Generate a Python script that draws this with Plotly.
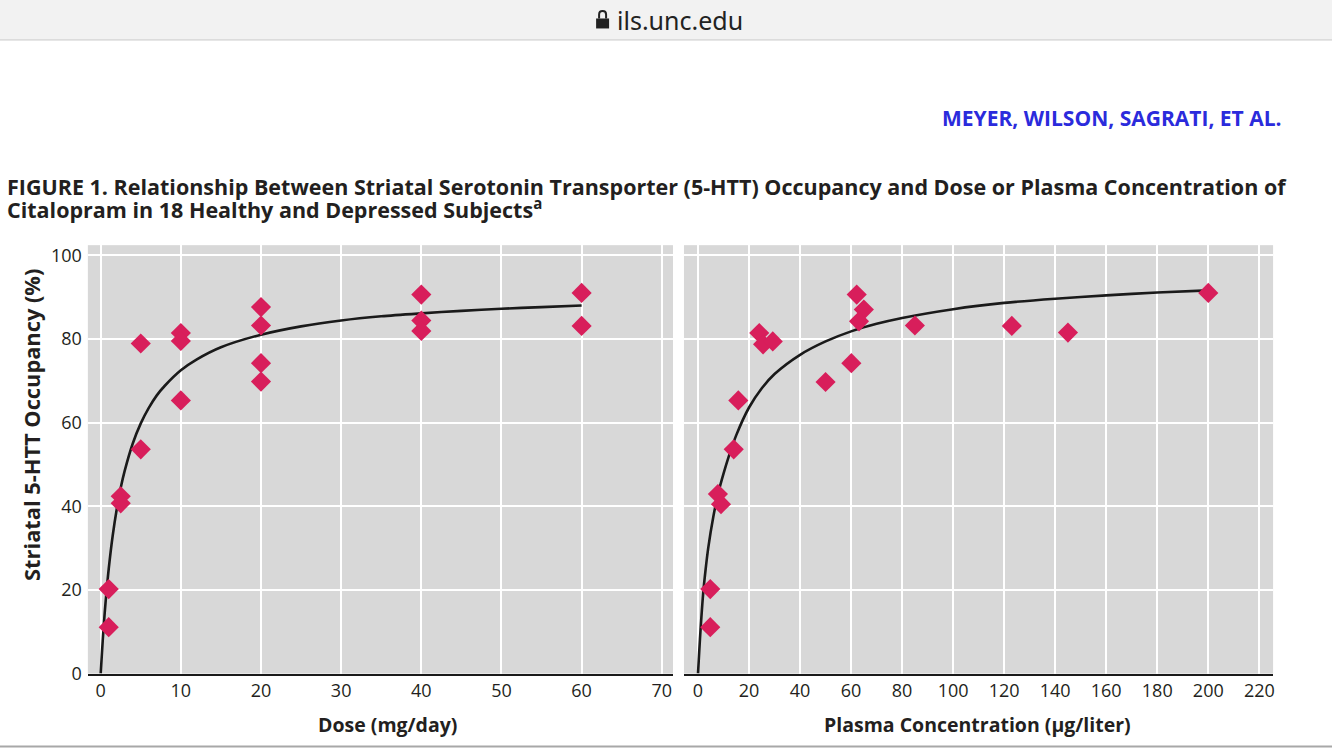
import plotly.graph_objects as go

W = 1334
FIG_H = 762          # page height; the photo is squeezed to 750 rows
SQUEEZE = 750 / 762  # measured vertical factor of the photograph
OFFSET = 1.5

# ---------------- data ----------------
dose = [1, 1, 2.5, 2.5, 5, 5, 10, 10, 10, 20, 20, 20, 20, 40, 40, 40, 60, 60]
occ_dose = [11.1, 20.2, 42.4, 40.7, 53.6, 78.9, 81.4, 79.5, 65.3, 87.6, 83.2, 74.2, 69.8,
            90.6, 84.4, 81.9, 91.0, 83.1]

plasma = [4.8, 4.8, 7.8, 9.0, 14.0, 15.8, 24.0, 25.5, 29.3, 50.0, 60.1, 62.2, 65.0, 63.1,
          85.0, 123.0, 145.0, 200.0]
occ_plasma = [11.1, 20.2, 42.9, 40.5, 53.6, 65.3, 81.4, 78.7, 79.4, 69.7, 74.2, 90.6, 87.0,
              84.2, 83.2, 83.1, 81.5, 91.0]

# fitted curves, values
fit_dose_x = [0, 0.25, 0.5, 0.75, 1, 1.5, 2, 2.5, 3, 4, 5, 6, 7, 8, 10, 12, 15, 20, 25, 30,
              35, 40, 45, 50, 55, 60]
fit_dose_y = [0, 7.8, 14.5, 20.1, 25.0, 33.0, 39.3, 44.4, 48.5, 55.0, 59.8, 63.5, 66.5, 68.8,
              72.5, 75.1, 78.0, 81.0, 83.0, 84.4, 85.4, 86.1, 86.7, 87.2, 87.6, 88.0]

fit_plasma_x = [0, 0.5, 1, 2, 3, 4, 6, 8, 10, 12, 15, 20, 25, 30, 40, 50, 60, 70, 80, 100,
                120, 140, 160, 180, 200]
fit_plasma_y = [0, 5.5, 10.5, 19.0, 25.0, 30.0, 37.5, 43.3, 47.8, 51.8, 57.0, 63.6, 68.2,
                71.6, 76.2, 79.4, 81.8, 83.6, 85.0, 87.1, 88.6, 89.6, 90.4, 91.1, 91.6]

dose_ticks = [0, 10, 20, 30, 40, 50, 60, 70]
plasma_ticks = [0, 20, 40, 60, 80, 100, 120, 140, 160, 180, 200, 220]
occ_ticks = [0, 20, 40, 60, 80, 100]

# ---------------- styling ----------------
RED = "#d81e5b"
TXT = "#231f20"
FONT = "Open Sans"


def px(x):
    return x / W


def py(y):
    # y = target row in the 750-row picture
    return 1 - ((y - OFFSET) / SQUEEZE) / FIG_H


fig = go.Figure()

fig.add_trace(go.Scatter(x=fit_dose_x, y=fit_dose_y, mode="lines",
                         line=dict(color="#1a1a1a", width=2.6, shape="spline", smoothing=0.8),
                         xaxis="x", yaxis="y", hoverinfo="skip", showlegend=False))
fig.add_trace(go.Scatter(x=dose, y=occ_dose, mode="markers",
                         marker=dict(symbol="diamond", size=15.5, color=RED, line=dict(width=0)),
                         xaxis="x", yaxis="y", showlegend=False))
fig.add_trace(go.Scatter(x=fit_plasma_x, y=fit_plasma_y, mode="lines",
                         line=dict(color="#1a1a1a", width=2.6, shape="spline", smoothing=0.8),
                         xaxis="x2", yaxis="y2", hoverinfo="skip", showlegend=False))
fig.add_trace(go.Scatter(x=plasma, y=occ_plasma, mode="markers",
                         marker=dict(symbol="diamond", size=15.5, color=RED, line=dict(width=0)),
                         xaxis="x2", yaxis="y2", showlegend=False))

ydom = [py(674), py(245)]
common_x = dict(showgrid=True, gridcolor="white", gridwidth=1.5, zeroline=False,
                showline=True, linecolor="#1a1a1a", linewidth=2, ticks="",
                tickfont=dict(family=FONT, size=18, color=TXT),
                ticklabelstandoff=0)
common_y = dict(showgrid=True, gridcolor="white", gridwidth=1.5, zeroline=False,
                showline=False, ticks="", range=[0, 102.4], domain=ydom,
                tickvals=occ_ticks, tickfont=dict(family=FONT, size=18, color=TXT))

fig.update_layout(
    width=W, height=FIG_H, autosize=False,
    margin=dict(l=0, r=0, t=0, b=0),
    paper_bgcolor="white", plot_bgcolor="#d8d8d8",
    xaxis=dict(common_x, domain=[px(88), px(674)], range=[-1.6, 71.4], tickvals=dose_ticks,
               anchor="y"),
    yaxis=dict(common_y, anchor="x", ticklabelstandoff=5),
    xaxis2=dict(common_x, domain=[px(685), px(1275)], range=[-5.5, 225.4], tickvals=plasma_ticks,
                anchor="y2"),
    yaxis2=dict(common_y, anchor="x2", showticklabels=False),
)

shapes = []
# browser bar
shapes.append(dict(type="rect", xref="paper", yref="paper", x0=0, x1=1, y0=py(39), y1=1.01,
                   fillcolor="#f2f2f2", line=dict(width=0), layer="below"))
shapes.append(dict(type="line", xref="paper", yref="paper", x0=0, x1=1, y0=py(39.5), y1=py(39.5),
                   line=dict(color="#c6c6c6", width=1)))
# lock icon
shapes.append(dict(type="rect", xref="paper", yref="paper", x0=px(597), x1=px(610), y0=py(28), y1=py(18),
                   fillcolor="#222", line=dict(width=0)))
shapes.append(dict(type="path", xref="paper", yref="paper",
                   path=f"M {px(600)},{py(18)} L {px(600)},{py(14)} Q {px(600)},{py(10.5)} {px(603.5)},{py(10.5)} "
                        f"Q {px(607)},{py(10.5)} {px(607)},{py(14)} L {px(607)},{py(18)}",
                   line=dict(color="#222", width=2)))
# bottom grey rule
shapes.append(dict(type="line", xref="paper", yref="paper", x0=0, x1=1, y0=py(747), y1=py(747),
                   line=dict(color="#a8a8a8", width=2)))
fig.update_layout(shapes=shapes)

ann = []
ann.append(dict(text="ils.unc.edu", x=px(616), y=py(20), xref="paper", yref="paper",
                xanchor="left", yanchor="middle", showarrow=False,
                font=dict(family="Noto Sans", size=25, color="#222")))
ann.append(dict(text="<b>MEYER, WILSON, SAGRATI, ET AL.</b>", x=px(1286), y=py(118), xref="paper",
                yref="paper", xanchor="right", yanchor="middle", showarrow=False,
                font=dict(family=FONT, size=21, color="#2b2bdc")))
ann.append(dict(text="<b>FIGURE 1. Relationship Between Striatal Serotonin Transporter (5-HTT) Occupancy and Dose or Plasma Concentration of</b>",
                x=px(5), y=py(186), xref="paper", yref="paper", xanchor="left", yanchor="middle",
                showarrow=False, font=dict(family=FONT, size=21.5, color=TXT)))
ann.append(dict(text="<b>Citalopram in 18 Healthy and Depressed Subjects<sup>a</sup></b>",
                x=px(5), y=py(208), xref="paper", yref="paper", xanchor="left", yanchor="middle",
                showarrow=False, font=dict(family=FONT, size=21.5, color=TXT)))
ann.append(dict(text="<b>Striatal 5-HTT Occupancy (%)</b>", x=px(32), y=py(425), xref="paper",
                yref="paper", xanchor="center", yanchor="middle", textangle=-90, showarrow=False,
                font=dict(family=FONT, size=21.8, color=TXT)))
ann.append(dict(text="<b>Dose (mg/day)</b>", x=px(388), y=py(725), xref="paper", yref="paper",
                xanchor="center", yanchor="middle", showarrow=False,
                font=dict(family=FONT, size=19.5, color=TXT)))
ann.append(dict(text="<b>Plasma Concentration (μg/liter)</b>", x=px(979), y=py(725), xref="paper",
                yref="paper", xanchor="center", yanchor="middle", showarrow=False,
                font=dict(family=FONT, size=19.5, color=TXT)))
fig.update_layout(annotations=ann)

post = (
    "var d=document.getElementById('{plot_id}');"
    "d.style.position='absolute';d.style.top='0px';d.style.left='0px';"
    "document.body.style.margin='0px';document.body.style.overflow='hidden';"
    "document.documentElement.style.overflow='hidden';"
)
fig.write_html("out.html", config={"displayModeBar": False}, post_script=post)
